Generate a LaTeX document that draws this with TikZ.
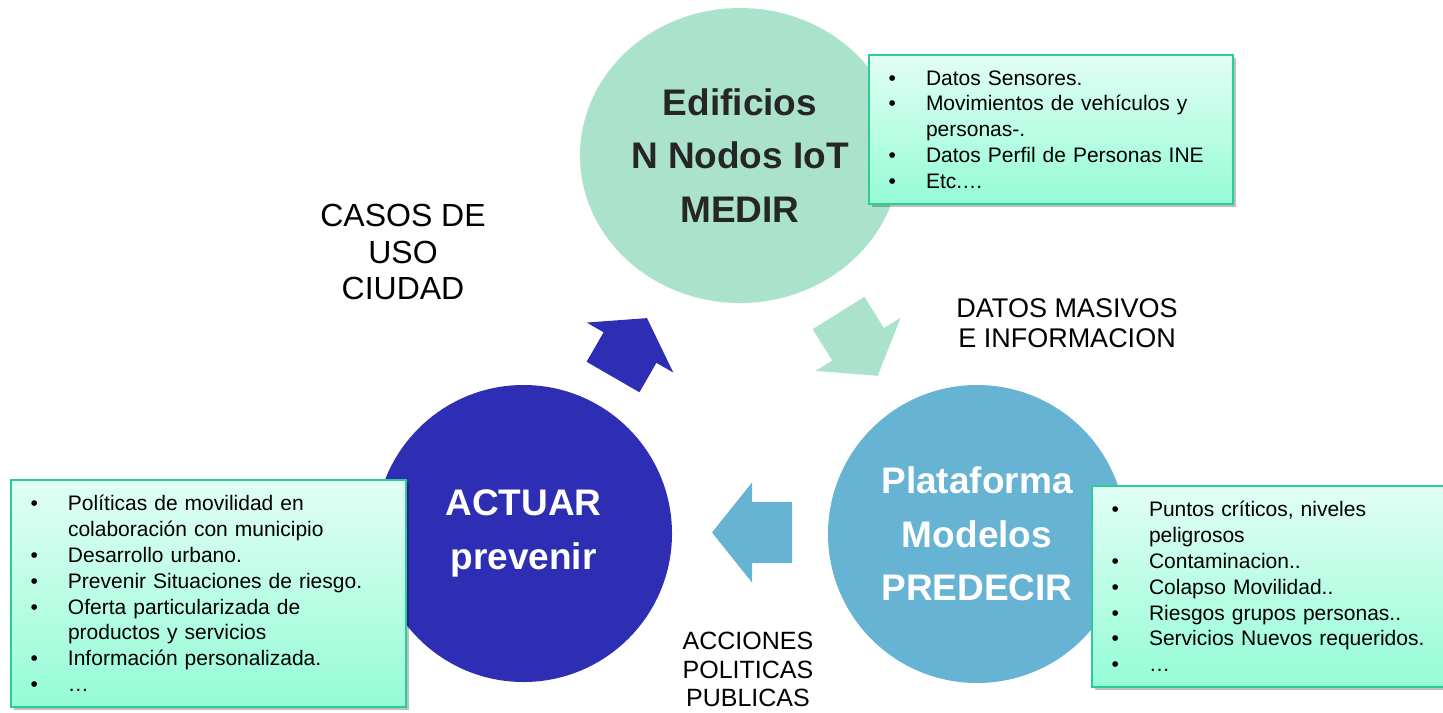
\documentclass[tikz,border=0pt]{standalone}
\usepackage{fontspec}
\setmainfont{Liberation Sans}
\usetikzlibrary{shapes.geometric,shadows}

\definecolor{medircol}{RGB}{170,226,204}
\definecolor{actuarcol}{RGB}{46,46,180}
\definecolor{predecircol}{RGB}{102,179,212}
\definecolor{boxtop}{RGB}{226,254,244}
\definecolor{boxbottom}{RGB}{148,252,214}
\definecolor{boxedge}{RGB}{44,204,150}
\definecolor{titlegray}{RGB}{38,38,38}

\newcommand{\bul}{\makebox[18.75pt][l]{•}}
\newcommand{\sig}{\hspace*{18.75pt}}

\tikzset{
	etapa/.style={circle, inner sep=0pt, align=center, text=white, font=\fontsize{18.5}{26.75}\selectfont\bfseries},
	listbox/.style={draw=boxedge, line width=1pt, top color=boxtop, bottom color=boxbottom, anchor=north west,
		inner xsep=9.75pt, inner ysep=0pt, align=left, font=\fontsize{10.5}{12.9}\selectfont,
		drop shadow={shadow xshift=1.5pt, shadow yshift=-1.5pt, opacity=0.25, fill=black}},
	rotulo/.style={align=center, inner sep=0pt}
}

\begin{document}
\begin{tikzpicture}[x=0.5pt, y=-0.5pt]
		\useasboundingbox (0,0) rectangle (1443,712);
		% etapas del ciclo
		\node[etapa, ellipse, minimum width=160pt, minimum height=147.5pt, fill=medircol, text=titlegray] (medir) at (740,155.5) {Edificios\\N Nodos IoT\\MEDIR};
		\node[etapa, minimum size=148.5pt, fill=actuarcol] (actuar) at (523.5,533.5) {ACTUAR\\prevenir};
		\node[etapa, minimum size=149pt, fill=predecircol] (predecir) at (977,534) {Plataforma\\Modelos\\PREDECIR};
		% flechas de bloque
		\foreach \x/\y/\ang/\len/\col in {613/377/60/68/actuarcol, 838.5/313/-58/74/medircol, 792/532.5/180/80/predecircol}{
			\fill[\col, shift={(\x,\y)}, rotate=\ang] (0,-30.5) -- (\len/2,-30.5) -- (\len/2,-50) -- (\len,0) -- (\len/2,50) -- (\len/2,30.5) -- (0,30.5) -- cycle;}
		% listas
		\node[listbox, text width=162.5pt, minimum height=74.5pt] (medirlista) at (868,54) {\bul Datos Sensores.\\
			\bul Movimientos de vehículos y\\
			\sig personas-.\\
			\bul Datos Perfil de Personas INE\\
			\bul Etc.…};
		\node[listbox, text width=178pt, minimum height=113.5pt] (actuarlista) at (10,479) {\bul Políticas de movilidad en\\
			\sig colaboración con municipio\\
			\bul Desarrollo urbano.\\
			\bul Prevenir Situaciones de riesgo.\\
			\bul Oferta particularizada de\\
			\sig productos y servicios\\
			\bul Información personalizada.\\
			\bul …};
		\node[listbox, text width=156.5pt, minimum height=100.5pt] (predecirlista) at (1091,485) {\bul Puntos críticos, niveles\\
			\sig peligrosos\\
			\bul Contaminacion..\\
			\bul Colapso Movilidad..\\
			\bul Riesgos grupos personas..\\
			\bul Servicios Nuevos requeridos.\\
			\bul …};
		% rotulos
		\node[rotulo, font=\fontsize{16}{18.25}\selectfont] (casos) at (403,252) {CASOS DE\\USO\\CIUDAD};
		\node[rotulo, font=\fontsize{13.5}{15}\selectfont] (datos) at (1067,323) {DATOS MASIVOS\\E INFORMACION};
		\node[rotulo, font=\fontsize{12.5}{14.25}\selectfont] (acciones) at (748,669.5) {ACCIONES\\POLITICAS\\PUBLICAS};
\end{tikzpicture}
\end{document}
